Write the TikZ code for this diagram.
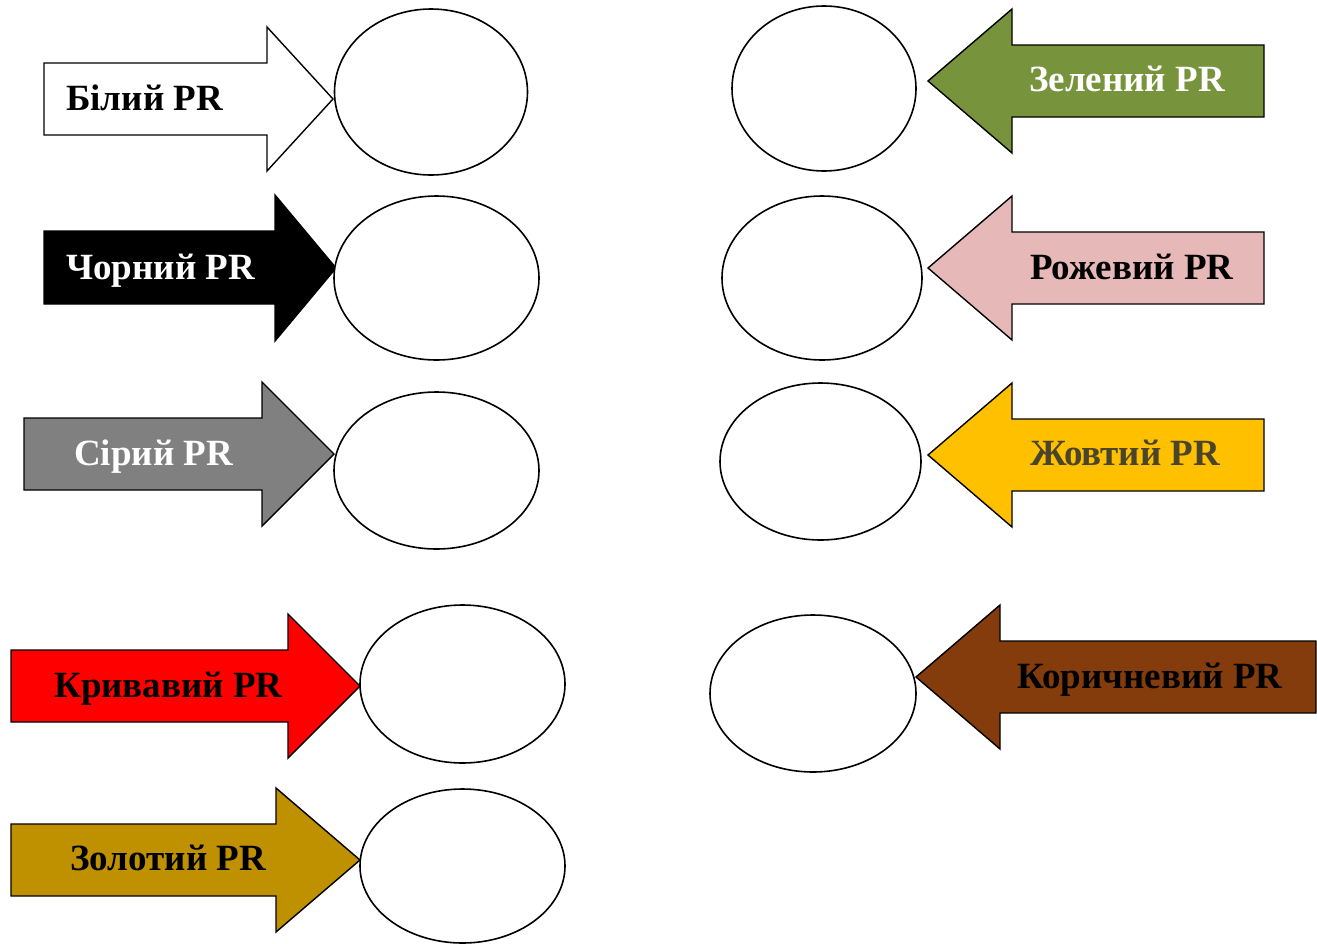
\documentclass[tikz,border=0pt]{standalone}
\usepackage{fontspec}
\setmainfont{Liberation Serif}
\usetikzlibrary{shapes.geometric}
\definecolor{prGreen}{HTML}{77933C}
\definecolor{prPink}{HTML}{E6B9B8}
\definecolor{prYellow}{HTML}{FFC000}
\definecolor{prYellowText}{HTML}{4A442A}
\definecolor{prBrown}{HTML}{843C0C}
\definecolor{prGold}{HTML}{BF9000}
\definecolor{prRed}{HTML}{FF0000}
\definecolor{prGray}{HTML}{808080}
\tikzset{
  arrowshape/.style={draw=black, line width=1.4pt, line join=miter},
  blank/.style={ellipse, draw=black, line width=1.6pt, fill=white, inner sep=0pt},
  label/.style={font=\fontsize{37}{42}\selectfont\bfseries, inner sep=0pt, anchor=base west},
}
\begin{document}
\begin{tikzpicture}[x=1pt, y=-1pt]
\useasboundingbox[fill=white] (0,0) rectangle (1317,943);

% ---- left column: arrows pointing right ----
% white
\draw[arrowshape, fill=white] (44,63) -- (267,63) -- (267,27) -- (333,99) -- (267,171) -- (267,135) -- (44,135) -- cycle;
\node[label] (tWhite) at (66,110) {Білий PR};
\node[blank, minimum width=193pt, minimum height=166pt] (eWhite) at (431,92) {};
% black
\draw[arrowshape, fill=black] (44,231) -- (275,231) -- (275,195) -- (336,268) -- (275,341) -- (275,304) -- (44,304) -- cycle;
\node[label, text=white] (tBlack) at (66,279) {Чорний PR};
\node[blank, minimum width=205pt, minimum height=164pt] (eBlack) at (436.5,278) {};
% gray
\draw[arrowshape, fill=prGray] (24,418) -- (262,418) -- (262,382) -- (334,454) -- (262,526) -- (262,490) -- (24,490) -- cycle;
\node[label, text=white] (tGray) at (74,465) {Сірий PR};
\node[blank, minimum width=205pt, minimum height=157pt] (eGray) at (436.5,470.5) {};
% red
\draw[arrowshape, fill=prRed] (11,650) -- (288,650) -- (288,614) -- (360,686) -- (288,758) -- (288,722) -- (11,722) -- cycle;
\node[label] (tRed) at (54,697) {Кривавий PR};
\node[blank, minimum width=205pt, minimum height=158pt] (eRed) at (462.5,684) {};
% gold
\draw[arrowshape, fill=prGold] (11,824) -- (276,824) -- (276,788) -- (360,860) -- (276,932) -- (276,896) -- (11,896) -- cycle;
\node[label] (tGold) at (70,870) {Золотий PR};
\node[blank, minimum width=205pt, minimum height=154pt] (eGold) at (462.5,866) {};

% ---- right column: arrows pointing left ----
% green
\draw[arrowshape, fill=prGreen] (1264,45) -- (1012,45) -- (1012,9) -- (928,81) -- (1012,153) -- (1012,117) -- (1264,117) -- cycle;
\node[label, text=white] (tGreen) at (1029,91) {Зелений PR};
\node[blank, minimum width=184pt, minimum height=165pt] (eGreen) at (824,88.5) {};
% pink
\draw[arrowshape, fill=prPink] (1264,232) -- (1012,232) -- (1012,196) -- (928,268) -- (1012,340) -- (1012,304) -- (1264,304) -- cycle;
\node[label] (tPink) at (1030,279) {Рожевий PR};
\node[blank, minimum width=200pt, minimum height=164pt] (ePink) at (822,278) {};
% yellow
\draw[arrowshape, fill=prYellow] (1264,419) -- (1012,419) -- (1012,383) -- (928,455) -- (1012,527) -- (1012,491) -- (1264,491) -- cycle;
\node[label, text=prYellowText] (tYellow) at (1030,465) {Жовтий PR};
\node[blank, minimum width=201pt, minimum height=157pt] (eYellow) at (820.5,461.5) {};
% brown
\draw[arrowshape, fill=prBrown] (1316,641) -- (1000,641) -- (1000,605) -- (916,677) -- (1000,749) -- (1000,713) -- (1316,713) -- cycle;
\node[label] (tBrown) at (1017,688) {Коричневий PR};
\node[blank, minimum width=206pt, minimum height=157pt] (eBrown) at (813,693.5) {};
\end{tikzpicture}
\end{document}
